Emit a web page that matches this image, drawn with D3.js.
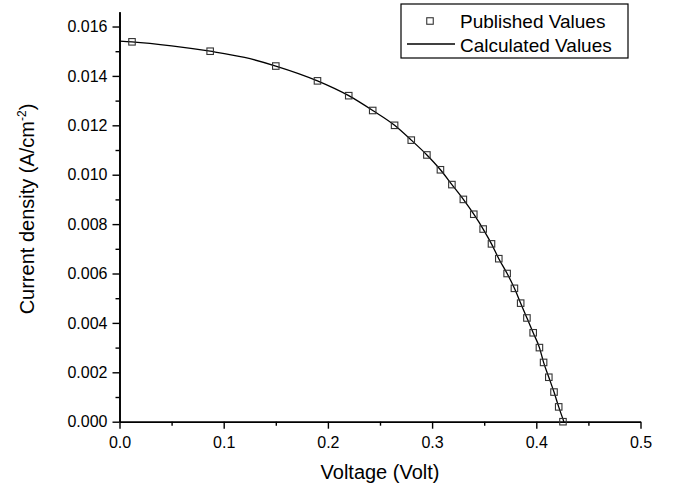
<!DOCTYPE html>
<html>
<head>
<meta charset="utf-8">
<script src="https://cdn.jsdelivr.net/npm/d3@7"></script>
<style>
  html, body { margin: 0; padding: 0; background: #fff; }
  svg { display: block; font-family: "Liberation Sans", Arial, sans-serif; }
</style>
</head>
<body>
<svg id="chart" width="677" height="492"></svg>
<script>
// Published J–V points (voltage in V, current density in A/cm^2)
const publishedV = [0.012, 0.087, 0.150, 0.190, 0.220, 0.243, 0.264, 0.280, 0.295, 0.308,
                    0.319, 0.330, 0.340, 0.349, 0.357, 0.364, 0.372, 0.379, 0.385, 0.391,
                    0.397, 0.403, 0.407, 0.412, 0.417, 0.4215, 0.4256];
const publishedJ = [0.01538, 0.0150, 0.0144, 0.0138, 0.0132, 0.0126, 0.0120, 0.0114, 0.0108, 0.0102,
                    0.0096, 0.0090, 0.0084, 0.0078, 0.0072, 0.0066, 0.0060, 0.0054, 0.0048, 0.0042,
                    0.0036, 0.0030, 0.0024, 0.0018, 0.0012, 0.0006, 0.0000];

// Calculated (model) curve
const calculatedV = [0.000, 0.012, 0.050, 0.087, 0.120, 0.150, 0.190, 0.220, 0.243, 0.264,
                     0.280, 0.295, 0.308, 0.319, 0.330, 0.340, 0.349, 0.357, 0.364, 0.372,
                     0.379, 0.385, 0.391, 0.397, 0.403, 0.407, 0.412, 0.417, 0.4215, 0.4265];
const calculatedJ = [0.01541, 0.01538, 0.01522, 0.0150, 0.01475, 0.0144, 0.0138, 0.0132, 0.0126, 0.0120,
                     0.0114, 0.0108, 0.0102, 0.0096, 0.0090, 0.0084, 0.0078, 0.0072, 0.0066, 0.0060,
                     0.0054, 0.0048, 0.0042, 0.0036, 0.0030, 0.0024, 0.0018, 0.0012, 0.0006, 0.0000];

const xTicks = [0.0, 0.1, 0.2, 0.3, 0.4, 0.5];
const xMinorTicks = [0.05, 0.15, 0.25, 0.35, 0.45];
const yTicks = [0.000, 0.002, 0.004, 0.006, 0.008, 0.010, 0.012, 0.014, 0.016];
const yMinorTicks = [0.001, 0.003, 0.005, 0.007, 0.009, 0.011, 0.013, 0.015];

const seriesNames = ["Published Values", "Calculated Values"];

const svg = d3.select("#chart");
const plot = { left: 119.5, right: 640.5, top: 11.7, bottom: 421.7 };

const x = d3.scaleLinear().domain([0, 0.5]).range([plot.left, plot.right]);
const y = d3.scaleLinear().domain([0, 0.0166]).range([plot.bottom, plot.top]);

// Axes: major and minor ticks point outward
const xAxis = d3.axisBottom(x).tickValues(xTicks).tickFormat(d3.format(".1f"))
  .tickSizeInner(7).tickSizeOuter(0).tickPadding(8);
const xMinor = d3.axisBottom(x).tickValues(xMinorTicks).tickFormat("")
  .tickSizeInner(4).tickSizeOuter(0);
const yAxis = d3.axisLeft(y).tickValues(yTicks).tickFormat(d3.format(".3f"))
  .tickSizeInner(7).tickSizeOuter(0).tickPadding(5);
const yMinor = d3.axisLeft(y).tickValues(yMinorTicks).tickFormat("")
  .tickSizeInner(4).tickSizeOuter(0);

function styleAxis(g) {
  g.select(".domain").attr("stroke", "#000").attr("stroke-width", 1.6);
  g.selectAll(".tick line").attr("stroke", "#000").attr("stroke-width", 1.4);
  g.selectAll(".tick text").attr("fill", "#000").attr("font-size", 16)
    .attr("font-family", "Liberation Sans, Arial, sans-serif");
}

svg.append("g").attr("transform", `translate(0,${plot.bottom})`).call(xMinor).call(styleAxis);
svg.append("g").attr("transform", `translate(0,${plot.bottom})`).call(xAxis).call(styleAxis);
svg.append("g").attr("transform", `translate(${plot.left},0)`).call(yMinor).call(styleAxis);
svg.append("g").attr("transform", `translate(${plot.left},0)`).call(yAxis).call(styleAxis);

// Axis titles
svg.append("text")
  .attr("x", (plot.left + plot.right) / 2).attr("y", 479)
  .attr("text-anchor", "middle").attr("font-size", 20).attr("fill", "#000")
  .text("Voltage (Volt)");

const yTitle = svg.append("text")
  .attr("transform", `translate(34,209) rotate(-90)`)
  .attr("text-anchor", "middle").attr("font-size", 20).attr("fill", "#000");
yTitle.append("tspan").text("Current density (A/cm");
yTitle.append("tspan").attr("font-size", 12).attr("dy", -8).text("-2");
yTitle.append("tspan").attr("dy", 8).text(")");

// Calculated curve
const calcData = calculatedV.map((v, i) => ({ v, j: calculatedJ[i] }));
const line = d3.line().x(d => x(d.v)).y(d => y(d.j)).curve(d3.curveMonotoneX);
svg.append("path").datum(calcData)
  .attr("d", line).attr("fill", "none").attr("stroke", "#000").attr("stroke-width", 1.3);

// Published markers
const pubData = publishedV.map((v, i) => ({ v, j: publishedJ[i] }));
const ms = 6.5;
svg.append("g").selectAll("rect").data(pubData).join("rect")
  .attr("x", d => x(d.v) - ms / 2).attr("y", d => y(d.j) - ms / 2)
  .attr("width", ms).attr("height", ms)
  .attr("fill", "none").attr("stroke", "#333").attr("stroke-width", 1.1);

// Legend
const lg = svg.append("g");
lg.append("rect").attr("x", 401).attr("y", 4).attr("width", 227).attr("height", 54)
  .attr("fill", "#fff").attr("stroke", "#000").attr("stroke-width", 1.2);
lg.append("rect").attr("x", 430 - ms / 2).attr("y", 21 - ms / 2).attr("width", ms).attr("height", ms)
  .attr("fill", "none").attr("stroke", "#333").attr("stroke-width", 1.1);
lg.append("line").attr("x1", 407).attr("x2", 455).attr("y1", 44).attr("y2", 44)
  .attr("stroke", "#000").attr("stroke-width", 1.3);
lg.append("text").attr("x", 460).attr("y", 28).attr("font-size", 19).attr("fill", "#000").text(seriesNames[0]);
lg.append("text").attr("x", 460).attr("y", 52).attr("font-size", 19).attr("fill", "#000").text(seriesNames[1]);
</script>
</body>
</html>
